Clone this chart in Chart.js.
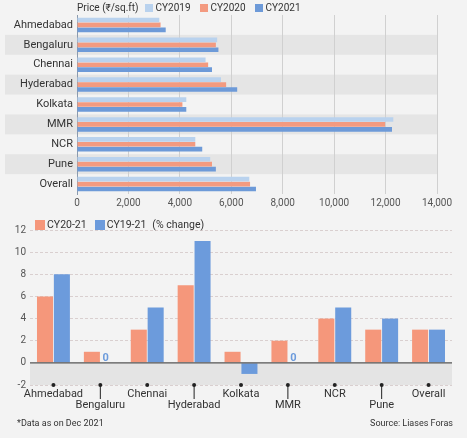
<!DOCTYPE html>
<html>
<head>
<meta charset="utf-8">
<script src="https://cdn.jsdelivr.net/npm/chart.js@4.4.1/dist/chart.umd.min.js"></script>
<style>
body { margin: 0; background: #f3f3f3; font-family: Roboto, "Liberation Sans", sans-serif; }
#wrap { position: relative; width: 467px; height: 438px; overflow: hidden; }
canvas { position: absolute; left: 0; }
.leg { position: absolute; display: flex; align-items: center; white-space: nowrap; color: #333; }
.leg .sw { display: inline-block; }
.note { position: absolute; top: 418px; font-size: 9px; color: #333; }
</style>
</head>
<body>
<div id="wrap">
  <canvas id="priceChart" width="467" height="212" style="top:0"></canvas>
  <canvas id="changeChart" width="467" height="205" style="top:210px"></canvas>
  <div class="leg" id="priceLegend" style="left:77px;top:2px;font-size:10px;"></div>
  <div class="leg" id="changeLegend" style="left:35px;top:218px;font-size:10.5px;"></div>
  <div class="note" style="left:17px">*Data as on Dec 2021</div>
  <div class="note" style="right:14px">Source: Liases Foras</div>
</div>
<script>
// data
const cities = ['Ahmedabad', 'Bengaluru', 'Chennai', 'Hyderabad', 'Kolkata', 'MMR', 'NCR', 'Pune', 'Overall'];

const priceYears = ['CY2019', 'CY2020', 'CY2021'];
const price2019 = [3200, 5450, 5000, 5600, 4250, 12300, 4600, 5180, 6700];
const price2020 = [3250, 5400, 5100, 5800, 4100, 11980, 4600, 5250, 6730];
const price2021 = [3450, 5500, 5250, 6230, 4250, 12250, 4870, 5400, 6960];
const priceTicks = [0, 2000, 4000, 6000, 8000, 10000, 12000, 14000];

const changeNames = ['CY20-21', 'CY19-21'];
const change2021 = [6, 1, 3, 7, 1, 2, 4, 3, 3];
const change1921 = [8, 0, 5, 11, -1, 0, 5, 4, 3];
const changeTicks = [-2, 0, 2, 4, 6, 8, 10, 12];

const priceColors = ['#b9d2ee', '#f39a80', '#6d9ad8'];
const changeColors = ['#f5977b', '#6c9bdc'];

const fontFamily = 'Roboto, "Liberation Sans", sans-serif';

// html legends
const priceLegend = document.getElementById('priceLegend');
priceLegend.innerHTML = '<span style="margin-right:6px">Price (₹/sq.ft)</span>' +
    priceYears.map((n, i) => '<span class="sw" style="width:8px;height:8px;background:' + priceColors[i] +
        ';margin-right:3px"></span><span style="margin-right:9px">' + n + '</span>').join('');

const changeLegend = document.getElementById('changeLegend');
changeLegend.innerHTML = changeNames.map((n, i) => '<span class="sw" style="width:10px;height:10px;background:' +
        changeColors[i] + ';margin-right:2px"></span><span style="margin-right:8px">' + n + '</span>').join('') +
    '<span style="margin-left:-2px">(% change)</span>';

// alternate grey rows behind the horizontal bars
const rowBands = {
    id: 'rowBands',
    beforeDraw(chart) {
        const { ctx, chartArea, scales: { y } } = chart;
        const half = (chartArea.bottom - chartArea.top) / cities.length / 2;
        ctx.save();
        ctx.fillStyle = '#e5e5e5';
        cities.forEach((c, i) => {
            if (i % 2 === 1) {
                const py = y.getPixelForValue(i);
                ctx.fillRect(5, py - half, chartArea.right - 5, half * 2);
            }
        });
        ctx.restore();
    }
};

new Chart(document.getElementById('priceChart'), {
    type: 'bar',
    data: {
        labels: cities,
        datasets: [
            { label: priceYears[0], data: price2019, backgroundColor: priceColors[0] },
            { label: priceYears[1], data: price2020, backgroundColor: priceColors[1] },
            { label: priceYears[2], data: price2021, backgroundColor: priceColors[2] }
        ]
    },
    options: {
        indexAxis: 'y',
        responsive: false,
        animation: false,
        layout: { padding: { top: 15, right: 30, left: 0, bottom: 0 } },
        datasets: { bar: { categoryPercentage: 0.74, barPercentage: 0.95 } },
        plugins: { legend: { display: false }, tooltip: { enabled: false } },
        scales: {
            x: {
                min: 0, max: 14000,
                afterBuildTicks: (scale) => { scale.ticks = priceTicks.map(v => ({ value: v })); },
                afterFit: (scale) => { scale.height = 18; },
                grid: { color: '#d0d0d0', drawTicks: false },
                border: { display: false },
                ticks: {
                    padding: 3,
                    color: '#555',
                    font: { family: fontFamily, size: 10 },
                    callback: (v) => v.toLocaleString('en-US')
                }
            },
            y: {
                afterFit: (scale) => { scale.width = 77; },
                grid: { display: false, drawTicks: false },
                border: { color: '#8a9aae' },
                ticks: { padding: 4, color: '#333', font: { family: fontFamily, size: 11 } }
            }
        }
    },
    plugins: [rowBands]
});

// shaded negative zone, zero line, axis dots/stems and "0" labels
const changeDecor = {
    id: 'changeDecor',
    beforeDraw(chart) {
        const { ctx, chartArea: a, scales: { y } } = chart;
        const y0 = y.getPixelForValue(0);
        ctx.save();
        ctx.fillStyle = '#e4e4e4';
        ctx.fillRect(a.left, y0, a.right - a.left, a.bottom - y0);
        ctx.restore();
    },
    afterDatasetsDraw(chart) {
        const { ctx, chartArea: a, scales: { x, y } } = chart;
        const y0 = y.getPixelForValue(0);
        ctx.save();
        ctx.strokeStyle = '#555';
        ctx.lineWidth = 1.3;
        ctx.beginPath();
        ctx.moveTo(a.left, y0);
        ctx.lineTo(a.right, y0);
        ctx.stroke();

        ctx.fillStyle = '#222';
        ctx.strokeStyle = '#222';
        ctx.lineWidth = 1;
        cities.forEach((c, i) => {
            const px = x.getPixelForValue(i);
            ctx.beginPath();
            ctx.arc(px, a.bottom, 2, 0, Math.PI * 2);
            ctx.fill();
            if (i % 2 === 1) {
                ctx.beginPath();
                ctx.moveTo(px, a.bottom);
                ctx.lineTo(px, a.bottom + 14);
                ctx.stroke();
            }
        });

        ctx.font = 'bold 11px ' + fontFamily;
        ctx.textAlign = 'center';
        ctx.textBaseline = 'bottom';
        chart.data.datasets.forEach((ds, di) => {
            const meta = chart.getDatasetMeta(di);
            ds.data.forEach((v, i) => {
                if (v === 0) {
                    ctx.fillStyle = ds.backgroundColor;
                    ctx.fillText('0', meta.data[i].x - 3, y0 + 1);
                }
            });
        });
        ctx.restore();
    }
};

new Chart(document.getElementById('changeChart'), {
    type: 'bar',
    data: {
        labels: cities,
        datasets: [
            { label: changeNames[0], data: change2021, backgroundColor: changeColors[0] },
            { label: changeNames[1], data: change1921, backgroundColor: changeColors[1] }
        ]
    },
    options: {
        responsive: false,
        animation: false,
        layout: { padding: { top: 20, right: 15, left: 0, bottom: 0 } },
        datasets: { bar: { categoryPercentage: 0.72, barPercentage: 0.95 } },
        plugins: { legend: { display: false }, tooltip: { enabled: false } },
        scales: {
            x: {
                afterFit: (scale) => { scale.height = 30; },
                grid: { display: false, drawTicks: false },
                border: { display: false },
                ticks: {
                    padding: 4,
                    maxRotation: 0,
                    autoSkip: false,
                    color: '#333',
                    font: { family: fontFamily, size: 11, lineHeight: 1 },
                    callback: (v, i) => i % 2 === 1 ? ['', cities[i]] : cities[i]
                }
            },
            y: {
                min: -2, max: 12,
                afterBuildTicks: (scale) => { scale.ticks = changeTicks.map(v => ({ value: v })); },
                afterFit: (scale) => { scale.width = 30; },
                grid: {
                    color: (c) => c.tick && c.tick.value === 0 ? 'rgba(0,0,0,0)' : '#d9cfcf',
                    drawTicks: false
                },
                border: { display: false, dash: [3, 2] },
                ticks: { padding: 4, color: '#555', font: { family: fontFamily, size: 10 } }
            }
        }
    },
    plugins: [changeDecor]
});
</script>
</body>
</html>
